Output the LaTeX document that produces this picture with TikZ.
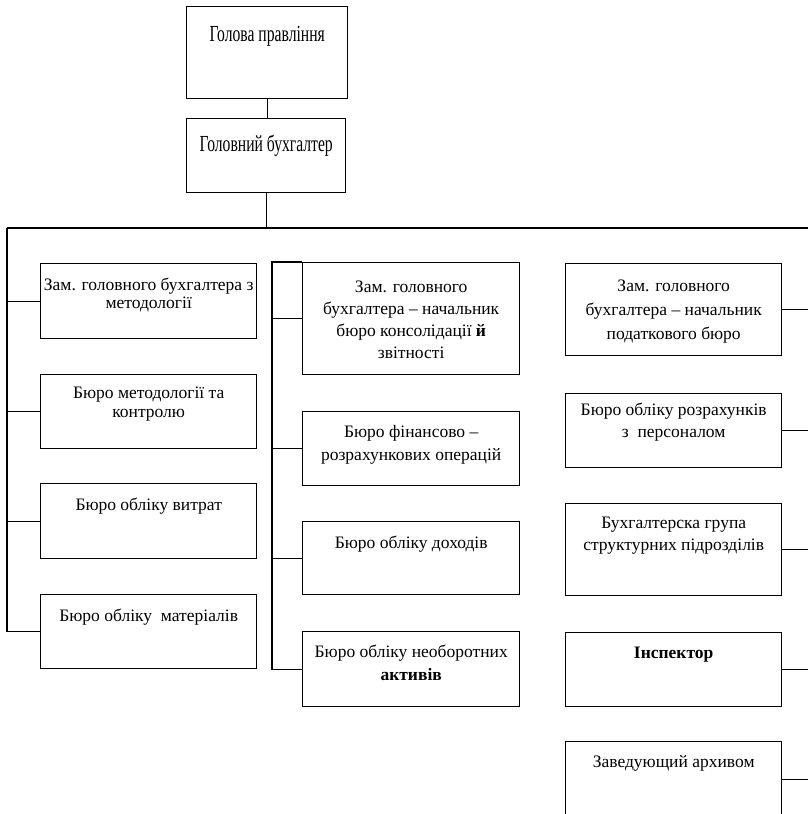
\documentclass[tikz,border=0pt]{standalone}
\usepackage{fontspec}
\setmainfont{Liberation Serif}
\newfontfamily\titlefont{Liberation Serif}[FakeStretch=0.68]
% #1 width, #2 height, #3 first baseline offset, #4 baselineskip, #5 text
\newcommand{\bx}[5]{\parbox[c][#2pt][t]{#1pt}{\centering\fontsize{17.5}{#4}\selectfont\rule{0pt}{#3pt}#5\par}}
\newcommand{\tbx}[4]{\parbox[c][#2pt][t]{#1pt}{\centering\titlefont\fontsize{23}{26}\selectfont\rule{0pt}{#3pt}#4\par}}
\tikzset{
  box/.style={draw, line width=1.4pt, inner sep=0pt, anchor=north west},
  conn/.style={line width=1.1pt}
}
\begin{document}
\begin{tikzpicture}[x=1pt,y=-1pt]
\useasboundingbox (0,0) rectangle (808,814);
% top
\node[box] (A) at (186,6) {\tbx{161}{92}{35}{Голова правління}};
\node[box] (B) at (186,118) {\tbx{159}{74}{33}{Головний бухгалтер}};
\coordinate (busC) at (266,228);
\coordinate (busL) at (7,228);
\coordinate (busR) at (808,228);
\draw[conn] (A.south) -- (A.south |- B.north);
\draw[conn] (B.south) -- (B.south |- busC);
\draw[conn] (busL) -- (busR);
% left column
\node[box] (L1) at (40,263) {\bx{216}{75}{27}{18}{Зам. головного бухгалтера з\\методології}};
\node[box] (L2) at (40,374) {\bx{216}{74}{24}{19}{Бюро методології та\\контролю}};
\node[box] (L3) at (40,483) {\bx{216}{75}{27}{19}{Бюро обліку витрат}};
\node[box] (L4) at (40,594) {\bx{216}{74}{27}{19}{Бюро обліку\ \ матеріалів}};
\draw[conn] (busL) |- (L4.west);
\foreach \n in {L1,L2,L3} \draw[conn] (\n.west) -- (\n.west -| busL);
% middle column
\node[box] (M1) at (302,262) {\bx{217}{112}{30}{22}{Зам. головного\\бухгалтера – начальник\\бюро консолідації \textbf{й}\\звітності}};
\node[box] (M2) at (302,411) {\bx{217}{74}{26}{23}{Бюро фінансово –\\розрахункових операцій}};
\node[box] (M3) at (302,521) {\bx{217}{73}{27}{22}{Бюро обліку доходів}};
\node[box] (M4) at (302,631) {\bx{217}{75}{26}{23}{Бюро обліку необоротних\\\textbf{активів}}};
\coordinate (midT) at (272,262);
\draw[conn] (M1.north west) -- (midT) |- (M4.west);
\foreach \n in {M1,M2,M3} \draw[conn] (\n.west) -- (\n.west -| midT);
% right column
\node[box] (R1) at (565,263) {\bx{216}{92}{28}{24}{Зам. головного\\бухгалтера – начальник\\податкового бюро}};
\node[box] (R2) at (565,393) {\bx{216}{74}{22}{22}{Бюро обліку розрахунків\\з\ \ персоналом}};
\node[box] (R3) at (565,503) {\bx{216}{92}{25}{22}{Бухгалтерска група\\структурних підрозділів}};
\node[box] (R4) at (565,632) {\bx{216}{74}{26}{22}{\textbf{Інспектор}}};
\node[box] (R5) at (565,741) {\bx{216}{75}{26}{22}{Заведующий архивом}};
\foreach \n in {R1,R2,R3,R4,R5} \draw[conn] (\n.east) -- (\n.east -| busR);
\end{tikzpicture}
\end{document}
